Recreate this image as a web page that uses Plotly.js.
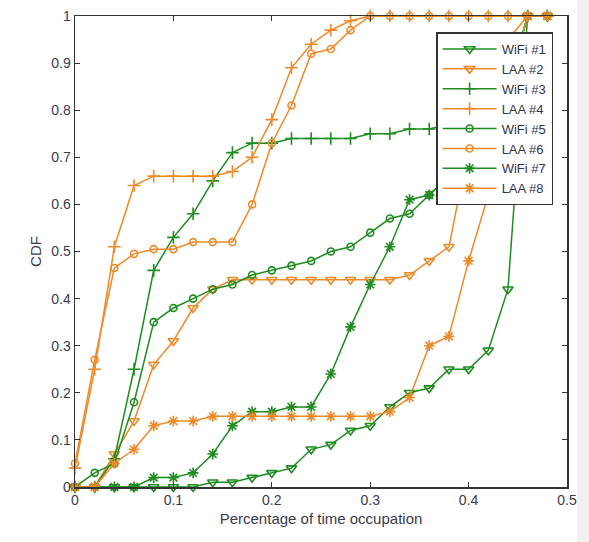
<!DOCTYPE html>
<html><head><meta charset="utf-8">
<script src="https://cdn.plot.ly/plotly-3.0.1.min.js"></script>
<style>html,body{margin:0;padding:0;background:#f0f0f0;}#chart{width:577px;height:542px;background:#fff;}</style>
</head><body><div id="chart"></div>
<script>
const xs = [0,0.02,0.04,0.06,0.08,0.10,0.12,0.14,0.16,0.18,0.20,0.22,0.24,0.26,0.28,0.30,0.32,0.34,0.36,0.38,0.40,0.42,0.44,0.46,0.48];
const names = ["WiFi #1","LAA #2","WiFi #3","LAA #4","WiFi #5","LAA #6","WiFi #7","LAA #8"];
const wifi1 = [0,0,0,0,0,0,0,0.01,0.01,0.02,0.03,0.04,0.08,0.09,0.12,0.13,0.17,0.20,0.21,0.25,0.25,0.29,0.42,1,1];
const laa2  = [0,0,0.07,0.14,0.26,0.31,0.38,0.42,0.44,0.44,0.44,0.44,0.44,0.44,0.44,0.44,0.44,0.45,0.48,0.51,0.72,0.86,0.95,1,1];
const wifi3 = [0,0,0.06,0.25,0.46,0.53,0.58,0.65,0.71,0.73,0.73,0.74,0.74,0.74,0.74,0.75,0.75,0.76,0.76,0.77,0.78,0.80,0.86,1,1];
const laa4  = [0.04,0.25,0.51,0.64,0.66,0.66,0.66,0.66,0.67,0.70,0.78,0.89,0.94,0.97,0.99,1,1,1,1,1,1,1,1,1,1];
const wifi5 = [0,0.03,0.05,0.18,0.35,0.38,0.40,0.42,0.43,0.45,0.46,0.47,0.48,0.50,0.51,0.54,0.57,0.58,0.62,0.66,0.70,0.75,0.85,1,1];
const laa6  = [0.05,0.27,0.465,0.495,0.505,0.505,0.52,0.52,0.52,0.60,0.73,0.81,0.92,0.93,0.97,1,1,1,1,1,1,1,1,1,1];
const wifi7 = [0,0,0,0,0.02,0.02,0.03,0.07,0.13,0.16,0.16,0.17,0.17,0.24,0.34,0.43,0.51,0.61,0.62,0.66,0.70,0.75,0.85,1,1];
const laa8  = [0,0,0.05,0.08,0.13,0.14,0.14,0.15,0.15,0.15,0.15,0.15,0.15,0.15,0.15,0.15,0.16,0.19,0.30,0.32,0.48,0.62,0.85,1,1];
const xTicks = [0,0.1,0.2,0.3,0.4,0.5];
const xTickText = ["0","0.1","0.2","0.3","0.4","0.5"];
const yTicks = [0,0.1,0.2,0.3,0.4,0.5,0.6,0.7,0.8,0.9,1];
const yTickText = ["0","0.1","0.2","0.3","0.4","0.5","0.6","0.7","0.8","0.9","1"];

const GREEN = "#1e8c1e", ORANGE = "#ec8a2a";
const series = [wifi1,laa2,wifi3,laa4,wifi5,laa6,wifi7,laa8];
const symbols = ["triangle-down-open","triangle-down-open","cross-thin-open","cross-thin-open","circle-open","circle-open","asterisk-open","asterisk-open"];
const traces = series.map((ys,i)=>{
  const c = i%2===0 ? GREEN : ORANGE;
  return {
    x: xs, y: ys, name: names[i], type: "scatter", mode: "lines+markers",
    cliponaxis: false,
    line: {color: c, width: 1.5},
    marker: {symbol: symbols[i], size: symbols[i].startsWith("circle") ? 7 : 9, color: c, line: {color: c, width: 1.6}}
  };
});
const layout = {
  width: 577, height: 542,
  margin: {l: 75, r: 10, t: 16, b: 55},
  paper_bgcolor: "#ffffff", plot_bgcolor: "#ffffff",
  font: {family: "Liberation Sans, Arial, sans-serif", size: 14, color: "#3a3a4a"},
  showlegend: true,
  legend: {x: 0.734, y: 0.965, xanchor: "left", yanchor: "top", bgcolor: "#ffffff",
           bordercolor: "#333333", borderwidth: 1.5, itemwidth: 54, font: {size: 13, color: "#33334a"}},
  xaxis: {range: [0, 0.5], tickvals: xTicks, ticktext: xTickText, ticks: "inside", ticklen: 5,
          tickcolor: "#333", showline: true, mirror: "ticks", linecolor: "#333", linewidth: 1.5,
          showgrid: false, zeroline: false,
          title: {text: "Percentage of time occupation", font: {size: 15}, standoff: 6}},
  yaxis: {range: [0, 1], tickvals: yTicks, ticktext: yTickText, ticks: "inside", ticklen: 5,
          tickcolor: "#333", showline: true, mirror: "ticks", linecolor: "#333", linewidth: 1.5,
          showgrid: false, zeroline: false,
          title: {text: "CDF", font: {size: 15}, standoff: 6}}
};
Plotly.newPlot("chart", traces, layout, {displayModeBar: false, staticPlot: true});
</script></body></html>
